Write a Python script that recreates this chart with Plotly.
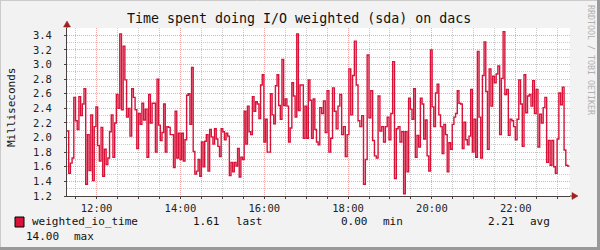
import pandas as pd
import plotly.graph_objects as go

# ---------------- data ----------------
series_name = "weighted_io_time"
title_text = "Time spent doing I/O weighted (sda) on dacs"
y_title = "Milliseconds"
day = "2024-01-01"

# 2-hour blocks of samples (block start, block end, values)
block_bounds = ["11:17:40", "13:19:30", "15:19:30", "17:19:30", "19:19:30", "21:19:30", "23:16:40"]

vals_1 = [2.09, 1.51, 1.65, 1.72, 2.55, 2.23, 2.11, 2.56, 2.30, 2.46, 2.67, 1.36, 2.04, 1.55, 2.31,
          1.41, 2.15, 2.42, 1.89, 1.68, 2.14, 1.47, 1.84, 1.63, 1.72, 2.08, 2.31, 1.73, 2.20, 2.59,
          2.40, 3.42, 2.38, 3.25, 2.79, 2.28, 2.40, 2.02, 2.67, 2.55, 2.38, 1.85, 2.33, 2.18, 2.47,
          2.24, 2.39, 1.73, 2.59, 2.20]
vals_2 = [2.47, 2.47, 1.80, 2.80, 2.17, 1.96, 2.07, 2.46, 1.80, 2.15, 2.14, 2.04, 2.04, 1.59, 2.36,
          1.72, 2.06, 1.70, 2.06, 1.68, 1.97, 2.58, 2.60, 2.18, 2.96, 1.81, 1.50, 1.54, 1.70, 1.47,
          1.94, 1.60, 1.95, 2.04, 1.54, 2.11, 2.01, 1.91, 2.12, 1.98, 1.88, 1.74, 2.12, 2.08, 1.97,
          2.06, 2.02, 1.48, 1.66, 1.53, 1.66]
vals_3 = [1.61, 1.85, 1.46, 1.73, 1.70, 2.36, 1.91, 2.43, 2.08, 2.04, 2.56, 2.36, 2.49, 2.46, 2.26,
          2.72, 2.86, 1.94, 2.25, 1.80, 1.80, 2.60, 2.31, 2.19, 2.71, 2.86, 2.44, 2.25, 3.07, 2.44,
          2.53, 2.43, 1.94, 2.13, 2.75, 2.57, 2.28, 3.42, 2.37, 2.72, 2.72, 1.99, 2.43, 1.99, 2.79,
          2.51, 1.99, 2.53, 2.11, 1.94, 1.90]
vals_4 = [2.41, 2.33, 2.50, 2.07, 2.64, 1.80, 1.99, 2.68, 2.36, 2.12, 2.43, 2.59, 2.04, 2.15, 1.74,
          2.04, 2.94, 2.31, 2.85, 3.32, 2.72, 2.23, 2.15, 2.30, 1.36, 1.70, 3.13, 2.27, 2.64, 1.96,
          1.75, 1.72, 2.57, 2.09, 2.15, 1.94, 2.15, 2.28, 1.97, 2.33, 3.04, 1.44, 2.12, 2.15, 1.94,
          2.08]
vals_5 = [1.23, 2.08, 1.53, 2.54, 2.39, 2.25, 2.67, 1.73, 2.03, 1.87, 2.54, 2.46, 1.98, 2.24, 1.75,
          1.54, 3.20, 2.42, 2.15, 2.61, 2.73, 2.31, 2.15, 1.78, 2.18, 2.04, 1.53, 1.93, 1.84, 2.18,
          2.28, 2.33, 2.64, 2.47, 2.46, 1.85, 2.21, 1.97, 1.90, 2.02, 2.66, 1.80, 2.25, 1.73, 3.18,
          2.28, 1.72, 2.85, 3.31, 2.63]
vals_6 = [1.84, 2.94, 2.43, 2.84, 2.75, 2.87, 2.98, 2.04, 2.81, 3.45, 2.59, 2.66, 2.03, 2.25, 2.23,
          2.15, 1.97, 2.25, 2.79, 2.46, 1.88, 2.86, 2.34, 2.57, 2.59, 2.43, 2.78, 2.33, 2.66, 1.87,
          2.32, 2.20, 2.41, 2.55, 1.66, 1.96, 1.62, 1.96, 1.60, 1.51, 1.98, 2.61, 2.45, 2.69, 1.83,
          1.62, 1.61]

x_range = ["11:17:40", "23:17:40"]
y_range = [1.2, 3.5]
x_tick_step_h = 2
x_minor_step_min = 30
y_major_step = 0.2
y_minor_step = 0.1

stat_last, stat_min, stat_avg, stat_max = "1.61", "0.00", "2.21", "14.00"

# ---------------- build step series ----------------
blocks = [vals_1, vals_2, vals_3, vals_4, vals_5, vals_6]
xs, ys = [], []
for i, vals in enumerate(blocks):
    t0 = pd.Timestamp(f"{day} {block_bounds[i]}")
    t1 = pd.Timestamp(f"{day} {block_bounds[i + 1]}")
    n = len(vals)
    for k, v in enumerate(vals):
        xs.append(t0 + (t1 - t0) * k / n)
        ys.append(v)
xs.append(pd.Timestamp(f"{day} {block_bounds[-1]}"))
ys.append(ys[-1])

RED = "#D8133A"
MONO = "DejaVu Sans Mono"

fig = go.Figure()
fig.add_trace(go.Scatter(x=xs, y=ys, mode="lines", line=dict(color=RED, width=1.4, shape="hv"),
                         hoverinfo="skip", showlegend=False))

# plot area in pixels: left 67, right 570, top 28, bottom 196
L, R, T, B = 67, 570, 28, 196
W, H = R - L, B - T


def px(xp):
    return (xp - L) / W


def py(yp):
    return (B - yp) / H


axis_col = "#4A4040"
arrow_col = "#A02020"

fig.update_layout(
    width=600, height=250,
    margin=dict(l=L, r=600 - R, t=T, b=250 - B, pad=0),
    paper_bgcolor="#F2F2F2", plot_bgcolor="#FFFFFF",
    font=dict(family=MONO, size=10, color="#222222"),
    xaxis=dict(
        type="date",
        range=[f"{day} {x_range[0]}", f"{day} {x_range[1]}"],
        tickformat="%H:%M",
        tick0=f"{day} 00:00", dtick=x_tick_step_h * 3600000,
        showgrid=True, gridcolor="rgba(235,80,80,0.5)", griddash="1px,1px", gridwidth=1,
        minor=dict(dtick=x_minor_step_min * 60000, showgrid=True, gridcolor="rgba(150,150,150,0.5)",
                   griddash="1px,1px", ticks="outside", ticklen=2, tickcolor=axis_col),
        showline=True, linecolor=axis_col, linewidth=1,
        ticks="outside", ticklen=2, tickcolor=axis_col,
        zeroline=False, fixedrange=True,
        tickfont=dict(family=MONO, size=10.5, color="#222222"),
    ),
    yaxis=dict(
        range=y_range, tick0=0, dtick=y_major_step, tickformat=".1f",
        showgrid=True, gridcolor="rgba(235,80,80,0.5)", griddash="1px,1px", gridwidth=1,
        minor=dict(dtick=y_minor_step, showgrid=True, gridcolor="rgba(150,150,150,0.5)",
                   griddash="1px,1px"),
        showline=True, linecolor=axis_col, linewidth=1,
        ticks="outside", ticklen=2, tickcolor=axis_col, ticklabelstandoff=10,
        zeroline=False, fixedrange=True,
        tickfont=dict(family=MONO, size=10.5, color="#222222"),
    ),
)

shapes = []
# image border (3D look)
shapes.append(dict(type="line", xref="paper", yref="paper", x0=px(0), x1=px(600), y0=py(0.5), y1=py(0.5),
                   line=dict(color="#CBCBCB", width=1)))
shapes.append(dict(type="line", xref="paper", yref="paper", x0=px(0.5), x1=px(0.5), y0=py(0), y1=py(250),
                   line=dict(color="#CBCBCB", width=1)))
shapes.append(dict(type="line", xref="paper", yref="paper", x0=px(0), x1=px(600), y0=py(248.5), y1=py(248.5),
                   line=dict(color="#999999", width=3)))
shapes.append(dict(type="line", xref="paper", yref="paper", x0=px(598.5), x1=px(598.5), y0=py(0), y1=py(250),
                   line=dict(color="#999999", width=3)))
# axis extensions and arrows
shapes.append(dict(type="line", xref="paper", yref="paper", x0=1, x1=px(574), y0=0, y1=0,
                   line=dict(color=axis_col, width=1)))
shapes.append(dict(type="path", xref="paper", yref="paper",
                   path=f"M {px(572)} {py(192.5)} L {px(578)} {py(196)} L {px(572)} {py(199.5)} Z",
                   fillcolor=arrow_col, line=dict(color=arrow_col, width=0.5)))
shapes.append(dict(type="line", xref="paper", yref="paper", x0=0, x1=0, y0=1, y1=py(25),
                   line=dict(color=axis_col, width=1)))
shapes.append(dict(type="path", xref="paper", yref="paper",
                   path=f"M {px(63.5)} {py(27)} L {px(67)} {py(21)} L {px(70.5)} {py(27)} Z",
                   fillcolor=arrow_col, line=dict(color=arrow_col, width=0.5)))
# legend swatch
shapes.append(dict(type="rect", xref="paper", yref="paper", x0=px(15), x1=px(24), y0=py(217), y1=py(227),
                   fillcolor=RED, line=dict(color="#000000", width=1)))
fig.update_layout(shapes=shapes)

ann = []
ann.append(dict(text=title_text, xref="paper", yref="paper", x=px(299), y=py(19), showarrow=False,
                xanchor="center", yanchor="middle", font=dict(family=MONO, size=13.3, color="#111111")))
ann.append(dict(text=y_title, xref="paper", yref="paper", x=px(11), y=py(108), showarrow=False,
                textangle=-90, xanchor="center", yanchor="middle", font=dict(family=MONO, size=11, color="#111111")))
ann.append(dict(text="RRDTOOL / TOBI OETIKER", xref="paper", yref="paper", x=px(591), y=py(60), showarrow=False,
                textangle=90, xanchor="center", yanchor="middle", font=dict(family=MONO, size=8.3, color="#B0B0B0")))

legend_items = [
    (series_name, 30, 222), (stat_last, 191, 222), ("last", 234, 222),
    (stat_min, 339, 222), ("min", 381, 222), (stat_avg, 486, 222), ("avg", 528, 222),
    (stat_max, 24, 236), ("max", 72, 236),
]
for txt, xp, yp in legend_items:
    ann.append(dict(text=txt, xref="paper", yref="paper", x=px(xp), y=py(yp), showarrow=False,
                    xanchor="left", yanchor="middle", font=dict(family=MONO, size=11, color="#111111")))
fig.update_layout(annotations=ann)

fig.write_html("out.html")
